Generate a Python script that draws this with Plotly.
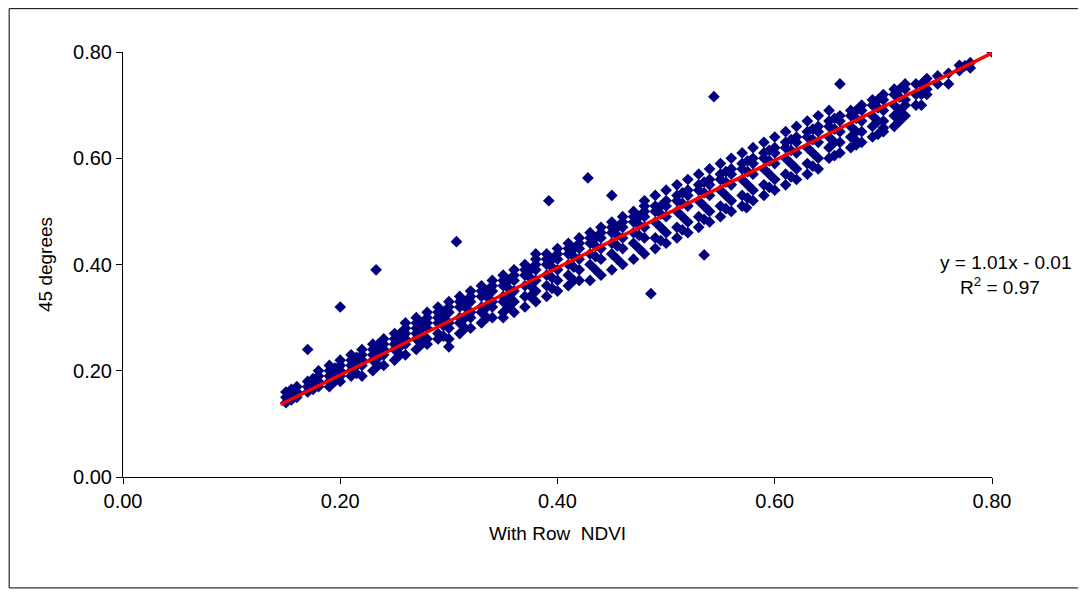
import plotly.graph_objects as go

# Scatter: one x column -> list of y values
col_x = [0.15, 0.16, 0.17, 0.18, 0.19, 0.20, 0.21, 0.22, 0.23, 0.24, 0.25, 0.26, 0.27, 0.28,
         0.29, 0.30, 0.31, 0.32, 0.33, 0.34, 0.35, 0.36, 0.37, 0.38, 0.39, 0.40, 0.41, 0.42,
         0.43, 0.44, 0.45, 0.46, 0.47, 0.48, 0.49, 0.50, 0.51, 0.52, 0.53, 0.54, 0.55, 0.56,
         0.57, 0.58, 0.59, 0.60, 0.61, 0.62, 0.63, 0.64, 0.65, 0.66, 0.67, 0.68, 0.69, 0.70,
         0.71, 0.72, 0.73, 0.74, 0.76, 0.78, 0.80]
col_y = [
    [.14, .15, .16], [.15, .16, .17], [.16, .17, .18], [.17, .18, .19, .20],
    [.17, .18, .19, .20, .21], [.18, .19, .20, .21, .22], [.19, .20, .21, .22, .23],
    [.19, .21, .22, .23, .24], [.20, .22, .23, .24, .25], [.21, .23, .24, .25, .26],
    [.22, .24, .25, .26, .27], [.23, .25, .26, .27, .28, .29], [.24, .26, .27, .28, .29, .30],
    [.25, .26, .28, .29, .30, .31], [.26, .27, .29, .30, .31, .32], [.26, .28, .29, .31, .32, .33],
    [.27, .29, .30, .32, .33, .34], [.28, .30, .31, .33, .34, .35], [.29, .31, .32, .34, .35, .36],
    [.30, .32, .33, .35, .36, .37], [.31, .33, .34, .36, .37, .38], [.31, .33, .35, .37, .38, .39],
    [.32, .34, .36, .38, .39, .40], [.33, .35, .37, .39, .40, .41, .42], [.34, .36, .38, .40, .41, .42],
    [.35, .37, .39, .41, .42, .43], [.36, .38, .40, .42, .43, .44], [.37, .39, .41, .43, .44, .45],
    [.37, .40, .42, .44, .45, .46], [.38, .41, .43, .45, .46, .47], [.39, .42, .44, .46, .47, .48],
    [.40, .43, .45, .47, .48, .49], [.41, .44, .46, .48, .49, .50], [.42, .45, .47, .49, .50, .51, .52],
    [.43, .45, .48, .50, .51, .53], [.44, .46, .49, .51, .52, .54], [.45, .47, .50, .52, .53, .55],
    [.46, .48, .51, .53, .54, .56], [.47, .49, .52, .54, .55, .57], [.48, .50, .53, .55, .56, .58],
    [.49, .51, .54, .56, .57, .59], [.50, .52, .55, .57, .58, .60], [.51, .53, .56, .58, .59, .61],
    [.52, .54, .57, .59, .60, .62], [.53, .55, .58, .60, .61, .63], [.54, .56, .59, .61, .62, .64],
    [.55, .57, .60, .62, .63, .65], [.56, .58, .61, .63, .64, .66], [.57, .59, .62, .64, .65, .67],
    [.58, .60, .63, .65, .66, .68], [.60, .62, .64, .66, .67, .69], [.61, .63, .65, .67, .68],
    [.62, .64, .66, .68, .69], [.63, .65, .67, .69, .70], [.64, .66, .68, .70, .71],
    [.65, .67, .69, .71, .72], [.66, .68, .70, .72, .73], [.68, .70, .71, .73, .74],
    [.70, .72, .74], [.72, .73, .75], [.74, .76], [.77, .78], [.80],
]

# In-between columns that fill the band
mid_x = [0.155, 0.175, 0.195, 0.215, 0.235, 0.255, 0.275, 0.295, 0.315, 0.335, 0.355, 0.375,
         0.395, 0.415, 0.435, 0.455, 0.475, 0.495, 0.515, 0.535, 0.555, 0.575, 0.595, 0.615,
         0.635, 0.655, 0.675, 0.695, 0.715, 0.735, 0.75, 0.77]
mid_y = [
    [.145, .155, .165], [.165, .175, .185], [.18, .195, .205], [.195, .21, .225],
    [.21, .225, .24, .25], [.23, .245, .26, .27], [.25, .265, .28, .29], [.265, .285, .30, .31],
    [.28, .30, .32, .33], [.30, .32, .34, .35], [.32, .34, .355, .37], [.34, .36, .375, .39],
    [.355, .375, .395, .41], [.37, .395, .415, .43], [.39, .415, .435, .45], [.41, .435, .455, .47],
    [.43, .455, .475, .49], [.445, .47, .495, .51], [.465, .49, .515, .535], [.485, .51, .535, .555],
    [.505, .53, .555, .575], [.525, .55, .575, .595], [.545, .57, .595, .615], [.565, .59, .615, .635],
    [.585, .61, .635, .655], [.605, .63, .655, .675], [.625, .65, .675, .69], [.645, .67, .695, .71],
    [.67, .69, .715, .73], [.70, .72, .74], [.74, .755], [.765, .775],
]

# Stray points outside the main band
outlier_x = [0.17, 0.20, 0.233, 0.307, 0.30, 0.392, 0.428, 0.486, 0.535, 0.544, 0.574,
             0.674, 0.70, 0.775, 0.66, 0.45, 0.35]
outlier_y = [0.24, 0.32, 0.39, 0.443, 0.245, 0.52, 0.563, 0.345, 0.418, 0.716, 0.507,
             0.635, 0.657, 0.774, 0.74, 0.53, 0.30]

# Linear fit shown on the chart
slope, intercept = 1.01, -0.01
trend_x = [0.145, 0.80]
trend_y = [slope * v + intercept for v in trend_x]

pts_x, pts_y = [], []
for xs, yss in ((col_x, col_y), (mid_x, mid_y)):
    for cx, ys in zip(xs, yss):
        for yv in ys:
            pts_x.append(cx)
            pts_y.append(yv)
pts_x += outlier_x
pts_y += outlier_y

fig = go.Figure()
fig.add_trace(go.Scatter(x=pts_x, y=pts_y, mode="markers",
                         marker=dict(symbol="diamond", size=9, color="#000080",
                                     line=dict(width=0))))
fig.add_trace(go.Scatter(x=trend_x, y=trend_y, mode="lines",
                         line=dict(color="#ff0000", width=3.5)))

fig.add_annotation(x=1.094, y=0.38, xref="paper", yref="y", xanchor="right", yanchor="middle",
                   text="y = 1.01x - 0.01<br>R<sup>2</sup> = 0.97      ", align="right",
                   showarrow=False, font=dict(size=19, color="black"))

axis_style = dict(showgrid=False, zeroline=False, showline=True, linecolor="black",
                  linewidth=1, ticks="outside", ticklen=6, tickcolor="black",
                  tickformat=".2f", tickfont=dict(size=20, color="black"))

fig.update_layout(
    width=1086, height=592,
    paper_bgcolor="white", plot_bgcolor="white",
    showlegend=False,
    font=dict(family="Liberation Sans, Arial, sans-serif", color="black"),
    margin=dict(l=115, r=102, t=44, b=123),
    shapes=[dict(type="rect", xref="paper", yref="paper", x0=-0.131, x1=1.104,
                 y0=-0.261, y1=1.102, line=dict(color="black", width=1))],
)
fig.update_xaxes(range=[0, 0.8], dtick=0.2, title=dict(text="With Row  NDVI", font=dict(size=19)),
                 **axis_style)
fig.update_yaxes(range=[0, 0.8], dtick=0.2, title=dict(text="45 degrees", font=dict(size=19)),
                 **axis_style)

fig.write_html("out.html")
